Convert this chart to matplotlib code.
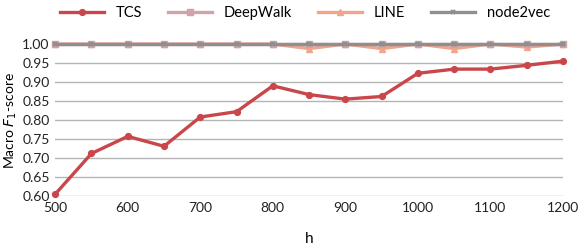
import matplotlib
matplotlib.use("Agg")
import matplotlib.pyplot as plt

# data
h = [500, 550, 600, 650, 700, 750, 800, 850, 900, 950, 1000, 1050, 1100, 1150, 1200]
tcs = [0.605, 0.712, 0.757, 0.731, 0.808, 0.822, 0.890, 0.867, 0.855, 0.862,
       0.923, 0.934, 0.934, 0.944, 0.955]
deepwalk = [1.0] * 15
line = [1.0, 1.0, 1.0, 1.0, 1.0, 1.0, 1.0, 0.988, 1.0, 0.988, 1.0, 0.988, 1.0, 0.992, 1.0]
node2vec = [1.0] * 15

plt.rcParams['font.family'] = ['Lato', 'DejaVu Sans']
plt.rcParams['mathtext.fontset'] = 'dejavusans'

fig = plt.figure(figsize=(5.81, 2.46), dpi=100)
ax = fig.add_axes([0.095, 0.203, 0.874, 0.618])

ax.plot(h, tcs, color='#c9474b', lw=2.4, marker='o', ms=4.2, label='TCS', clip_on=False, zorder=5)
ax.plot(h, deepwalk, color='#d1a3a6', lw=2.4, marker='s', ms=4.2, label='DeepWalk', clip_on=False, zorder=3)
ax.plot(h, line, color='#f2a48c', lw=2.4, marker='^', ms=4.2, label='LINE', clip_on=False, zorder=2)
ax.plot(h, node2vec, color='#8f8f8f', lw=2.4, marker='x', ms=3.5, mew=1.5, label='node2vec',
        clip_on=False, zorder=4)

ax.set_xlim(500, 1200)
ax.set_ylim(0.6, 1.0)
ax.set_yticks([0.60, 0.65, 0.70, 0.75, 0.80, 0.85, 0.90, 0.95, 1.00])
ax.set_yticklabels(['%.2f' % v for v in ax.get_yticks()])
ax.set_xticks([500, 600, 700, 800, 900, 1000, 1100, 1200])
ax.yaxis.grid(True, color='#b4b4b4', lw=1)
ax.set_axisbelow(True)
for s in ax.spines.values():
    s.set_visible(False)
ax.tick_params(length=0, labelsize=10, colors='#222222', pad=4)

ax.set_xlabel('h', fontsize=11, va='center')
ax.set_ylabel('Macro $F_1$-score', fontsize=10, va='center')
ax.xaxis.set_label_coords(0.5, -0.28)
ax.yaxis.set_label_coords(-0.088, 0.5)

fig.legend(loc='upper center', bbox_to_anchor=(0.525, 1.03), ncol=4, frameon=False,
           fontsize=10.5, handlelength=3, columnspacing=1.8)

fig.savefig('out.png', dpi=100)
